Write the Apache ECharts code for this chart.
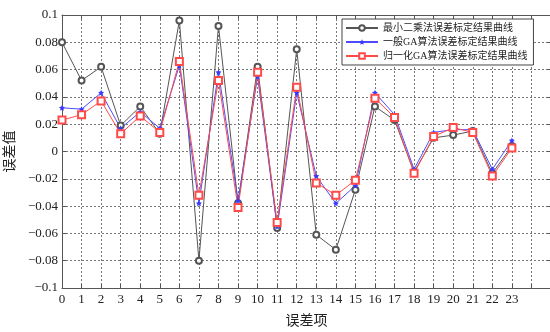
<!DOCTYPE html>
<html>
<head>
<meta charset="utf-8">
<script src="https://cdn.jsdelivr.net/npm/echarts@6/dist/echarts.min.js"></script>
<style>
  html, body { margin: 0; padding: 0; background: #fff; }
  #chart { width: 550px; height: 332px; }
</style>
</head>
<body>
<div id="chart"></div>
<script>
const items = [0, 1, 2, 3, 4, 5, 6, 7, 8, 9, 10, 11, 12, 13, 14, 15, 16, 17, 18, 19, 20, 21, 22, 23]

const lsqValues = [0.080, 0.052, 0.062, 0.019, 0.033, 0.013, 0.096, -0.080, 0.092, -0.038, 0.062, -0.056,
  0.075, -0.061, -0.072, -0.028, 0.033, 0.023, -0.015, 0.010, 0.012, 0.015, -0.016, 0.004]
const gaValues = [0.032, 0.031, 0.043, 0.017, 0.029, 0.017, 0.063, -0.038, 0.058, -0.036, 0.055, -0.055,
  0.043, -0.018, -0.038, -0.025, 0.043, 0.027, -0.013, 0.014, 0.016, 0.016, -0.013, 0.008]
const normGaValues = [0.023, 0.027, 0.037, 0.013, 0.026, 0.014, 0.066, -0.032, 0.052, -0.041, 0.058, -0.052,
  0.047, -0.023, -0.032, -0.021, 0.039, 0.025, -0.016, 0.011, 0.0175, 0.014, -0.018, 0.0025]

const seriesNames = ['最小二乘法误差标定结果曲线', '一般GA算法误差标定结果曲线', '归一化GA算法误差标定结果曲线']
const xTickLabels = items.map(String)

const font = "'Liberation Serif', 'Noto Sans CJK SC', serif"

const toPairs = (values) => items.map((x, i) => [x, values[i]])

const yLabel = (v) => {
  if (Math.abs(v) < 1e-9) return '0'
  let s = parseFloat(Math.abs(v).toFixed(2)).toString()
  return (v < 0 ? '\u2212' : '') + s
}

const axisBase = {
  type: 'value',
  axisLine: { show: true, onZero: false, lineStyle: { color: '#555', width: 1 } },
  axisTick: { show: true, inside: true, length: 4, lineStyle: { color: '#555' } },
  splitLine: { show: false }
}

const starPath = 'path://M0,-10 L2.9,-4 L9.5,-3.1 L4.7,1.5 L5.9,8.1 L0,5 L-5.9,8.1 L-4.7,1.5 L-9.5,-3.1 L-2.9,-4 Z'

const chart = echarts.init(document.getElementById('chart'))
chart.setOption({
  animation: false,
  backgroundColor: '#fff',
  grid: { left: 62, top: 15, right: -1, bottom: 44, outerBoundsMode: 'none', containLabel: false },
  legend: {
    orient: 'vertical',
    left: 342,
    top: 19,
    backgroundColor: '#fff',
    borderColor: '#444',
    borderWidth: 1,
    padding: [4, 6, 4, 3],
    itemGap: 4,
    itemWidth: 32,
    itemHeight: 7,
    textStyle: { fontFamily: font, fontSize: 10, color: '#222' },
    data: seriesNames
  },
  xAxis: [
    Object.assign({}, axisBase, {
      min: 0, max: 25, interval: 1,
      position: 'bottom',
      name: '误差项',
      nameLocation: 'middle',
      nameGap: 26,
      nameTextStyle: { fontFamily: font, fontSize: 14, color: '#222' },
      axisLabel: {
        fontFamily: font, fontSize: 13, color: '#222', margin: 5,
        formatter: (v) => (v <= 23 ? xTickLabels[v] : '')
      },
      splitLine: { show: true, lineStyle: { color: '#777', type: [2, 2], width: 1 } }
    }),
    Object.assign({}, axisBase, {
      min: 0, max: 25, interval: 1,
      position: 'top',
      axisLabel: { show: false }
    })
  ],
  yAxis: [
    Object.assign({}, axisBase, {
      min: -0.1, max: 0.1, interval: 0.02,
      position: 'left',
      name: '误差值',
      nameLocation: 'middle',
      nameGap: 41,
      nameTextStyle: { fontFamily: font, fontSize: 14, color: '#222' },
      axisLabel: { fontFamily: font, fontSize: 13, color: '#222', margin: 4, formatter: yLabel },
      splitLine: { show: true, lineStyle: { color: '#777', type: [2, 2], width: 1 } }
    }),
    Object.assign({}, axisBase, {
      min: -0.1, max: 0.1, interval: 0.02,
      position: 'right',
      axisLabel: { show: false }
    })
  ],
  series: [
    {
      name: seriesNames[0],
      type: 'line',
      data: toPairs(lsqValues),
      symbol: 'emptyCircle',
      symbolSize: 6,
      itemStyle: { color: '#555', borderWidth: 1 },
      lineStyle: { color: '#555', width: 1 }
    },
    {
      name: seriesNames[1],
      type: 'line',
      data: toPairs(gaValues),
      symbol: starPath,
      symbolSize: 6,
      itemStyle: { color: '#3a3aff' },
      lineStyle: { color: '#4d4dff', width: 1 }
    },
    {
      name: seriesNames[2],
      type: 'line',
      data: toPairs(normGaValues),
      symbol: 'emptyRect',
      symbolSize: 7,
      itemStyle: { color: '#ff4a4a', borderWidth: 1 },
      lineStyle: { color: '#ff4a4a', width: 1 }
    }
  ]
})
</script>
</body>
</html>
